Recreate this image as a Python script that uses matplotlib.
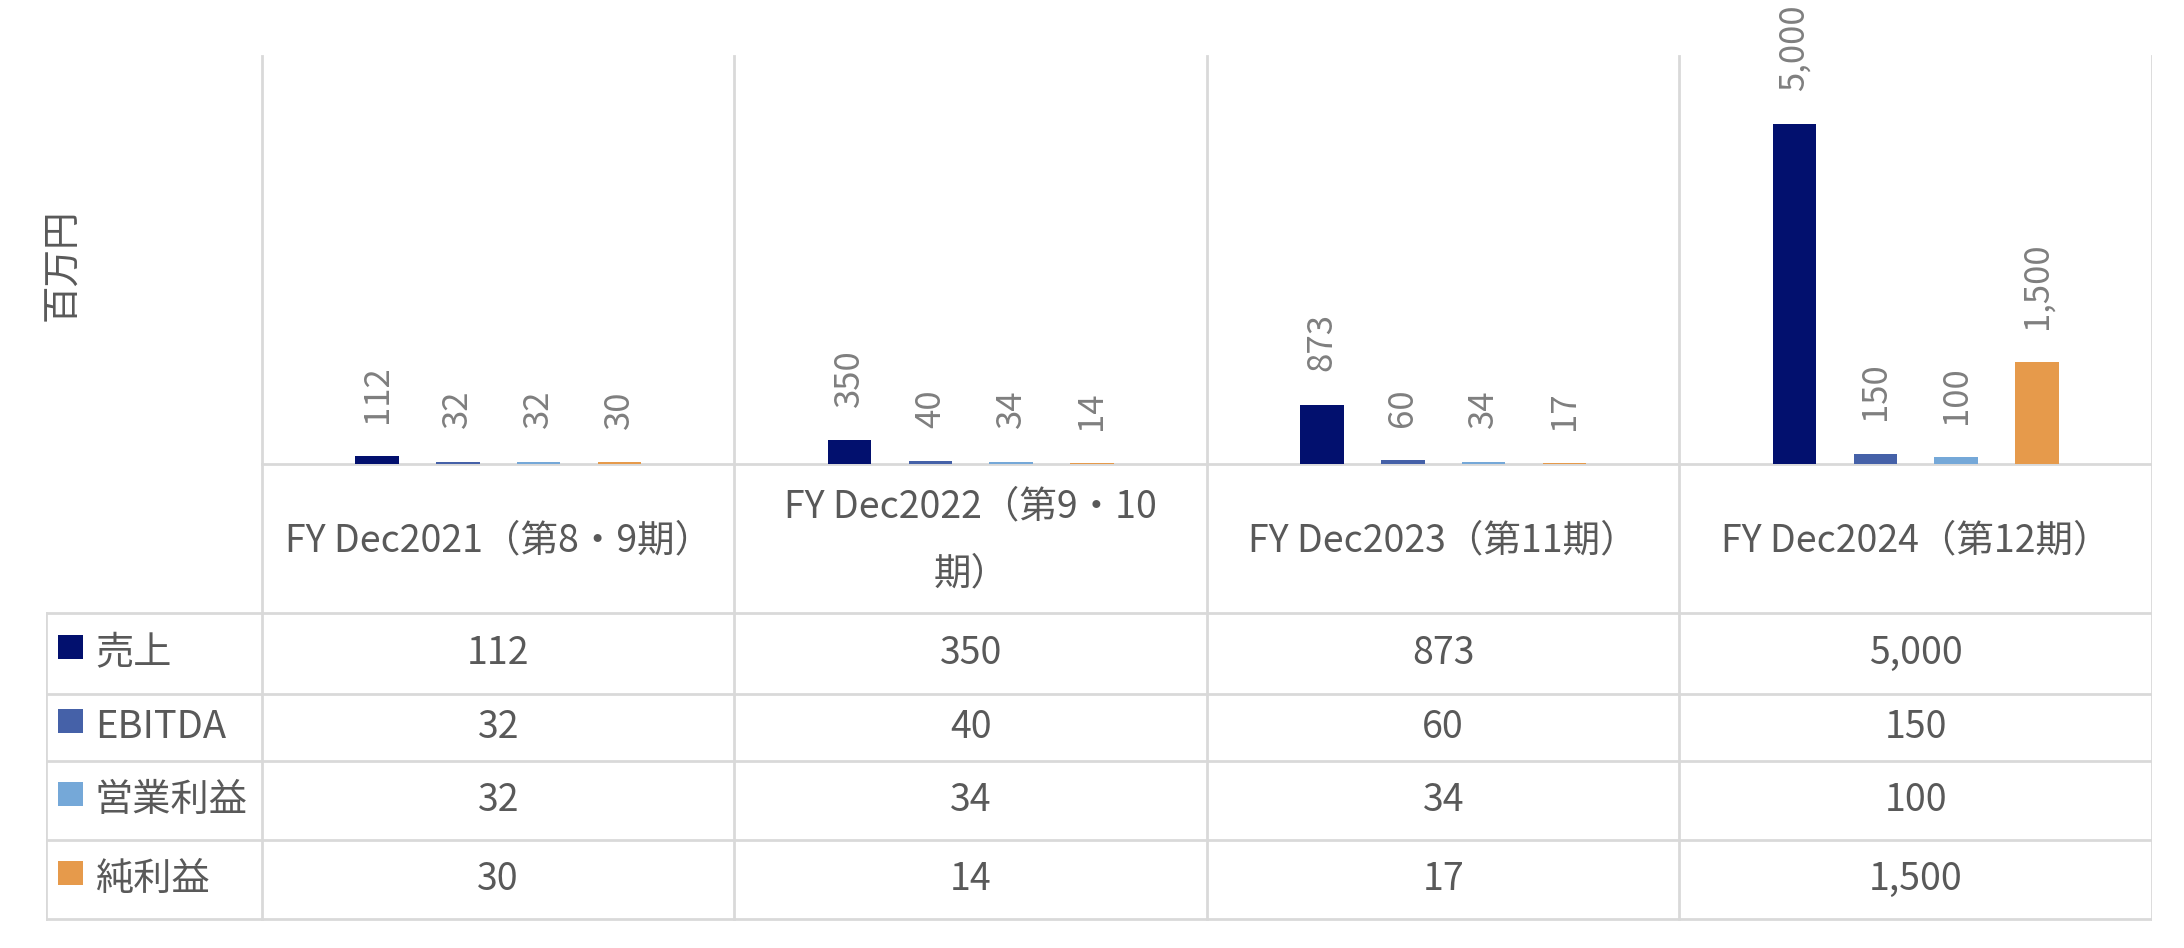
import numpy as np
from matplotlib import pyplot as plt

plt.rcParams['font.family'] = ['Noto Sans CJK JP', 'DejaVu Sans']

# data
categories = ['FY Dec2021（第8・9期）', 'FY Dec2022（第9・10\n期）',
              'FY Dec2023（第11期）', 'FY Dec2024（第12期）']
series_names = ['売上', 'EBITDA', '営業利益', '純利益']
sales = [112, 350, 873, 5000]
ebitda = [32, 40, 60, 150]
op_income = [32, 34, 34, 100]
net_income = [30, 14, 17, 1500]
series_values = [sales, ebitda, op_income, net_income]
colors = ['#02106E', '#4561A8', '#75A8D8', '#E69A4B']

grid_c = '#D9D9D9'
text_c = '#595959'
label_c = '#7F7F7F'

W, H = 2184, 948
# layout in pixels
left_px, plot_left, right_px = 46, 262, 2152
top_px, base_px = 56, 464
row_lines = [613, 694, 761, 840, 919]


def px_rect(x0, y0, x1, y1):
    return [x0 / W, 1 - y1 / H, (x1 - x0) / W, (y1 - y0) / H]


fig = plt.figure(figsize=(W / 100, H / 100), dpi=100)

n = len(categories)
cat_w = (right_px - plot_left) / n

# table / grid axes (pixel rows on y, category units on x)
tab = fig.add_axes(px_rect(left_px, 0, right_px, H))
x_left = -0.5 - (plot_left - left_px) / cat_w
tab.set_xlim(x_left, n - 0.5)
tab.set_ylim(H, 0)
tab.axis('off')

lw = 2
for b in np.arange(n + 1) - 0.5:
    tab.plot([b, b], [top_px, row_lines[-1]], color=grid_c, lw=lw, zorder=1)
tab.plot([x_left, x_left], [row_lines[0], row_lines[-1]], color=grid_c, lw=lw)
tab.plot([-0.5, n - 0.5], [base_px, base_px], color=grid_c, lw=lw)
for y in row_lines:
    tab.plot([x_left, n - 0.5], [y, y], color=grid_c, lw=lw)

# category header
for i, c in enumerate(categories):
    tab.text(i, (base_px + row_lines[0]) / 2 + 2, c, ha='center', va='center',
             fontsize=27, color=text_c, linespacing=1.95)

# table rows
sq = 25 / cat_w
for r, (name, vals, col) in enumerate(zip(series_names, series_values, colors)):
    yc = (row_lines[r] + row_lines[r + 1]) / 2
    tab.add_patch(plt.Rectangle((x_left + 12 / cat_w, yc - 19), sq, 24,
                                color=col, lw=0))
    tab.text(x_left + 49 / cat_w, yc, name, ha='left', va='center',
             fontsize=27.5, color=text_c)
    for i, v in enumerate(vals):
        tab.text(i, yc, f'{v:,}', ha='center', va='center',
                 fontsize=27, color=text_c)

# bar chart
ax = fig.add_axes(px_rect(plot_left, top_px, right_px, base_px))
ax.set_xlim(-0.5, n - 0.5)
ax.set_ylim(0, 6000)
ax.axis('off')
x = np.arange(n)
step = 0.171
width = 0.092
for k, (vals, col) in enumerate(zip(series_values, colors)):
    xs = x + (k - 1.5) * step
    ax.bar(xs, vals, width, color=col, zorder=3)
    for xi, v in zip(xs, vals):
        ax.annotate(f'{v:,}', (xi, v), xytext=(0, 24), textcoords='offset points',
                    rotation=90, ha='center', va='bottom', fontsize=25,
                    color=label_c, annotation_clip=False)

fig.text(63 / W, 1 - 265 / H, '百万円', rotation=90, ha='center', va='center',
         fontsize=27, color=text_c)

fig.savefig('out.png', dpi=100)
